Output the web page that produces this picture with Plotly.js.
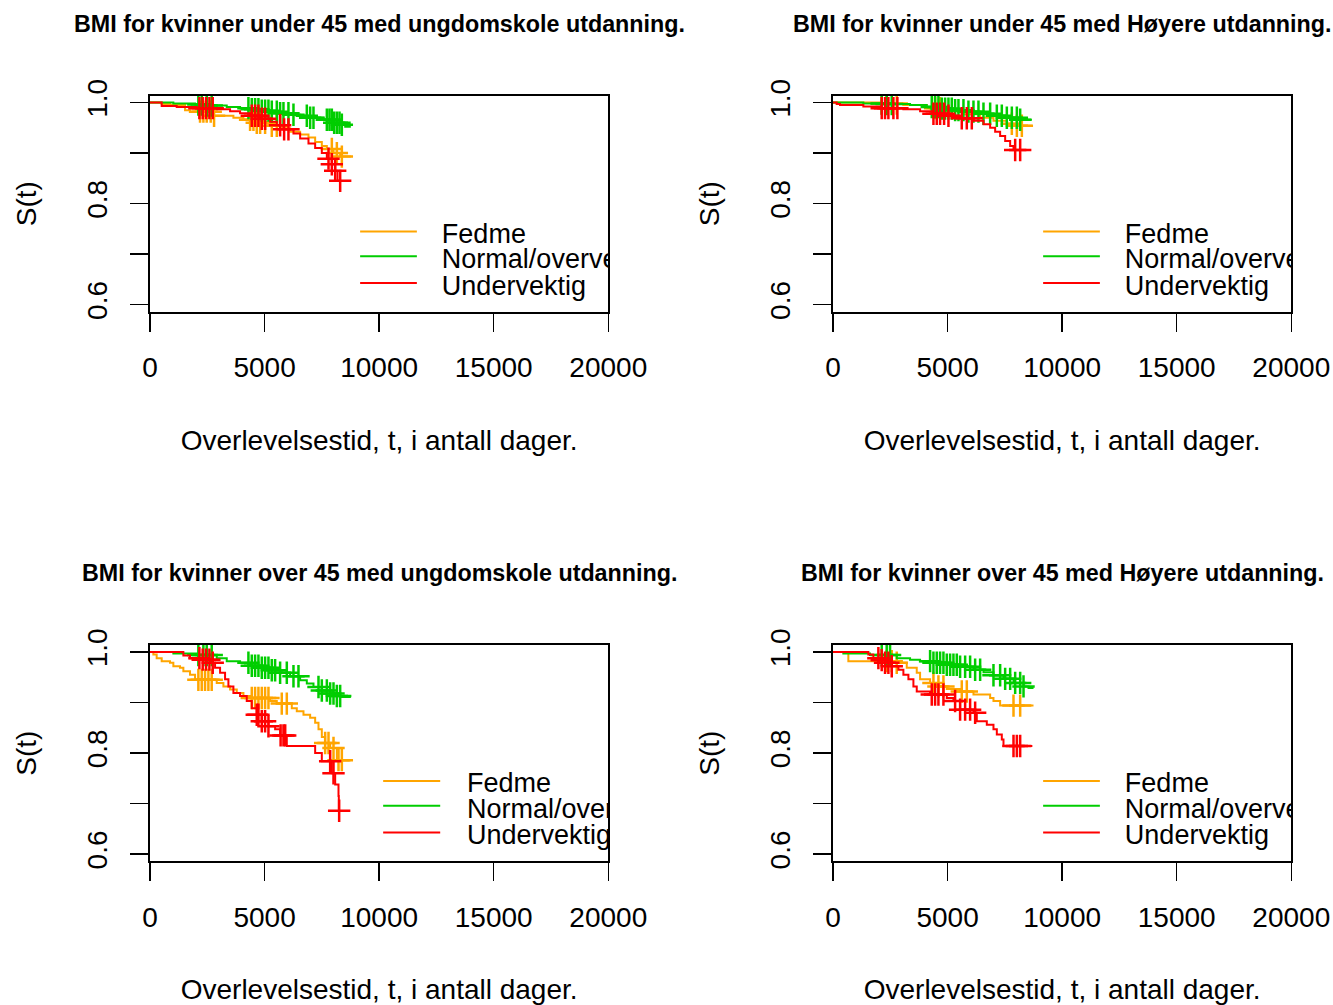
<!DOCTYPE html>
<html><head><meta charset="utf-8">
<script src="https://cdn.plot.ly/plotly-3.0.1.min.js"></script>
<style>html,body{margin:0;padding:0;background:#fff;}#chart{width:1333px;height:1005px;}</style>
</head><body><div id="chart"></div>
<script>
// ---------- text ----------
const groupNames = ["Fedme", "Normal/overvekt", "Undervektig"];
const groupColors = ["#FFA500", "#00CD00", "#FF0000"];
const panelTitles = [
  "BMI for kvinner under 45 med ungdomskole utdanning.",
  "BMI for kvinner under 45 med Høyere utdanning.",
  "BMI for kvinner over 45 med ungdomskole utdanning.",
  "BMI for kvinner over 45 med Høyere utdanning."
];
const xTitle = "Overlevelsestid, t, i antall dager.";
const yTitle = "S(t)";
const xTickVals = [0, 5000, 10000, 15000, 20000];
const xTickText = ["0", "5000", "10000", "15000", "20000"];
const yTickVals = [0.6, 0.7, 0.8, 0.9, 1.0];
const yTickText = ["0.6", "", "0.8", "", "1.0"];

// ---------- panel 1: under 45, ungdomskole ----------
const p1FedmeT = [0, 510, 874, 1529, 1747, 2766, 3640, 4077, 4659, 5169, 5678, 6115, 6552, 6916, 7207, 7498, 7717, 8008, 8299, 8765];
const p1FedmeS = [1, 0.997, 0.995, 0.985, 0.982, 0.974, 0.970, 0.966, 0.960, 0.954, 0.949, 0.942, 0.937, 0.931, 0.922, 0.914, 0.908, 0.900, 0.893, 0.893];
const p1FedmeC = [2184, 2330, 2475, 2650, 2796, 4368, 4514, 4659, 4805, 5023, 5315, 5533, 7935, 8154, 8372];
const p1NormalT = [0, 1019, 1966, 2475, 3349, 3931, 4368, 4805, 5242, 5678, 6115, 6552, 6989, 7571, 8008, 8299, 8518, 8765];
const p1NormalS = [1, 0.998, 0.996, 0.994, 0.991, 0.989, 0.987, 0.984, 0.982, 0.979, 0.976, 0.974, 0.970, 0.966, 0.960, 0.956, 0.952, 0.952];
const p1NormalC = [2111, 2257, 2475, 2693, 4295, 4441, 4586, 4732, 4878, 5023, 5169, 5315, 5533, 5678, 5824, 6042, 6261, 6843, 6989, 7134, 7717, 7833, 7935, 8037, 8154, 8270, 8372];
const p1UnderT = [0, 510, 1165, 2038, 2912, 3494, 3931, 4368, 4805, 5242, 5533, 5824, 6261, 6552, 6916, 7207, 7498, 7717, 7935, 8081, 8183, 8299];
const p1UnderS = [1, 0.993, 0.991, 0.989, 0.987, 0.983, 0.979, 0.974, 0.968, 0.962, 0.955, 0.947, 0.939, 0.929, 0.919, 0.910, 0.900, 0.889, 0.878, 0.865, 0.845, 0.845];
const p1UnderC = [2155, 2300, 2446, 2592, 2737, 4441, 4586, 4732, 4878, 5023, 5678, 5853, 6042, 7790, 7935, 8081, 8299];

// ---------- panel 2: under 45, høyere ----------
const p2FedmeT = [0, 2053, 3072, 4091, 4965, 5693, 6421, 7003, 7586, 8023, 8678];
const p2FedmeS = [1, 0.998, 0.995, 0.989, 0.983, 0.977, 0.970, 0.964, 0.958, 0.954, 0.954];
const p2FedmeC = [2126, 2344, 2781, 4455, 4674, 7804, 8023, 8241];
const p2NormalT = [0, 1325, 2344, 3363, 4091, 4674, 5256, 5839, 6421, 7003, 7586, 8168, 8678];
const p2NormalS = [1, 0.998, 0.997, 0.995, 0.991, 0.988, 0.985, 0.982, 0.978, 0.974, 0.970, 0.966, 0.966];
const p2NormalC = [2126, 2344, 2563, 4310, 4455, 4601, 4747, 4892, 5038, 5183, 5329, 5475, 5693, 5911, 6130, 6348, 6567, 6858, 7149, 7367, 7586, 7804, 8023, 8168];
const p2UnderT = [0, 160, 306, 1325, 2053, 3072, 3800, 4383, 4965, 5547, 6130, 6567, 6858, 7076, 7294, 7513, 7731, 7877, 8600];
const p2UnderS = [1, 0.997, 0.995, 0.992, 0.989, 0.987, 0.983, 0.978, 0.974, 0.969, 0.964, 0.957, 0.950, 0.942, 0.934, 0.924, 0.914, 0.906, 0.906];
const p2UnderC = [2126, 2271, 2417, 2635, 2810, 4383, 4528, 4674, 4848, 5038, 5620, 5839, 6057, 7950, 8168];

// ---------- panel 3: over 45, ungdomskole ----------
const p3FedmeT = [0, 146, 291, 510, 874, 1019, 1310, 1456, 1747, 1966, 2912, 3203, 3494, 3786, 4077, 4368, 5242, 5533, 6188, 6406, 6698, 6989, 7207, 7353, 7498, 7644, 7862, 8154, 8765];
const p3FedmeS = [1, 0.995, 0.988, 0.982, 0.979, 0.972, 0.969, 0.962, 0.955, 0.945, 0.939, 0.932, 0.926, 0.919, 0.913, 0.909, 0.903, 0.898, 0.889, 0.883, 0.876, 0.870, 0.860, 0.847, 0.832, 0.820, 0.810, 0.786, 0.786];
const p3FedmeC = [2111, 2257, 2402, 2548, 2693, 4441, 4586, 4732, 4878, 5023, 5169, 5751, 5970, 7644, 7790, 8008, 8226, 8372];
const p3NormalT = [0, 1019, 2038, 2912, 3349, 3931, 4368, 4805, 5242, 5678, 6115, 6552, 6843, 7134, 7498, 7862, 8154, 8372, 8765];
const p3NormalS = [1, 0.997, 0.994, 0.988, 0.982, 0.979, 0.973, 0.969, 0.964, 0.959, 0.952, 0.944, 0.938, 0.931, 0.924, 0.918, 0.913, 0.911, 0.911];
const p3NormalC = [2111, 2330, 2475, 2693, 4295, 4441, 4586, 4732, 4878, 5023, 5169, 5315, 5460, 5678, 5970, 6261, 6479, 7353, 7498, 7717, 7862, 8008, 8154, 8299];
const p3UnderT = [0, 1456, 1747, 2184, 2621, 2839, 3058, 3276, 3422, 3640, 3931, 4222, 4441, 4659, 4878, 5169, 5460, 5678, 5970, 7207, 7498, 7935, 8081, 8226, 8240, 8255];
const p3UnderS = [1, 0.993, 0.988, 0.985, 0.979, 0.969, 0.959, 0.946, 0.932, 0.919, 0.913, 0.903, 0.889, 0.876, 0.863, 0.853, 0.847, 0.835, 0.814, 0.800, 0.784, 0.760, 0.738, 0.715, 0.686, 0.686];
const p3UnderC = [2155, 2300, 2446, 2592, 2737, 4659, 4732, 4878, 5023, 5169, 5700, 5824, 5900, 7862, 8008, 8255];

// ---------- panel 4: over 45, høyere ----------
const p4FedmeT = [0, 670, 2781, 3218, 3655, 3800, 4237, 4528, 4965, 5547, 6130, 6858, 7003, 7294, 8750];
const p4FedmeS = [1, 0.982, 0.979, 0.969, 0.959, 0.946, 0.939, 0.932, 0.927, 0.922, 0.916, 0.909, 0.903, 0.894, 0.894];
const p4FedmeC = [2344, 2563, 2781, 4383, 4601, 4819, 5620, 5839, 7877, 8168];
const p4NormalT = [0, 451, 1616, 2781, 3363, 3800, 4383, 4965, 5547, 6130, 6567, 7003, 7440, 7877, 8314, 8532, 8750];
const p4NormalS = [1, 0.997, 0.994, 0.988, 0.985, 0.982, 0.979, 0.975, 0.971, 0.965, 0.960, 0.954, 0.947, 0.939, 0.932, 0.929, 0.929];
const p4NormalC = [2126, 2344, 2490, 4237, 4383, 4528, 4674, 4819, 4965, 5111, 5256, 5402, 5547, 5766, 5984, 6203, 6421, 7003, 7294, 7513, 7731, 7950, 8168, 8314];
const p4UnderT = [0, 1543, 1762, 2053, 2271, 2563, 2854, 3072, 3291, 3509, 3655, 4237, 4965, 5256, 5547, 6130, 6275, 6712, 7003, 7149, 7367, 7440, 8700];
const p4UnderS = [1, 0.995, 0.988, 0.984, 0.979, 0.972, 0.965, 0.955, 0.946, 0.932, 0.922, 0.916, 0.909, 0.903, 0.886, 0.880, 0.863, 0.856, 0.847, 0.837, 0.827, 0.814, 0.814];
const p4UnderC = [1980, 2126, 2271, 2417, 2563, 4310, 4455, 4601, 4819, 5329, 5547, 5766, 5984, 6203, 7877, 8023, 8168];

// ---------- build ----------
const panelData = [
  [[p1FedmeT, p1FedmeS, p1FedmeC], [p1NormalT, p1NormalS, p1NormalC], [p1UnderT, p1UnderS, p1UnderC]],
  [[p2FedmeT, p2FedmeS, p2FedmeC], [p2NormalT, p2NormalS, p2NormalC], [p2UnderT, p2UnderS, p2UnderC]],
  [[p3FedmeT, p3FedmeS, p3FedmeC], [p3NormalT, p3NormalS, p3NormalC], [p3UnderT, p3UnderS, p3UnderC]],
  [[p4FedmeT, p4FedmeS, p4FedmeC], [p4NormalT, p4NormalS, p4NormalC], [p4UnderT, p4UnderS, p4UnderC]]
];

function stepAt(t, s, c) {
  let v = s[0];
  for (let i = 0; i < t.length; i++) { if (t[i] <= c) v = s[i]; else break; }
  return v;
}

const W = 1333, H = 1005;
// plot boxes in pixels: [left, right, top, bottom]
const boxes = [
  [150, 608.3, 95.5, 311.7],
  [833, 1291.3, 95.5, 311.7],
  [150, 608.3, 645, 861.2],
  [833, 1291.3, 645, 861.2]
];
// legend placement (data units) per panel: line start, line end, text start
const legendX = [
  [9170, 11646, 12737],
  [9170, 11646, 12737],
  [10175, 12664, 13830],
  [9170, 11646, 12737]
];
const legendLineY = [0.745, 0.696, 0.643];
const legendTextY = [0.736, 0.685, 0.633];

const font = "Liberation Sans, Arial, Helvetica, sans-serif";
const traces = [];
const layout = {
  width: W, height: H,
  margin: {l: 0, r: 0, t: 0, b: 0},
  paper_bgcolor: "#fff", plot_bgcolor: "#fff",
  showlegend: false,
  font: {family: font, size: 28, color: "#000"},
  annotations: []
};

panelData.forEach((groups, p) => {
  const k = p === 0 ? "" : String(p + 1);
  const xa = "x" + k, ya = "y" + k;
  const b = boxes[p];
  groups.forEach((g, gi) => {
    const [t, s, c] = g;
    traces.push({
      type: "scatter", mode: "lines", x: t, y: s, xaxis: xa, yaxis: ya,
      line: {shape: "hv", color: groupColors[gi], width: 2},
      name: groupNames[gi], hoverinfo: "skip"
    });
    traces.push({
      type: "scatter", mode: "markers", x: c, y: c.map(v => stepAt(t, s, v)), xaxis: xa, yaxis: ya,
      marker: {symbol: "cross-thin-open", size: 16, color: groupColors[gi], line: {color: groupColors[gi], width: 2.5}},
      name: groupNames[gi], hoverinfo: "skip"
    });
  });
  // legend drawn inside the plot region (clipped at box edge like the original)
  const lx = legendX[p];
  groupNames.forEach((nm, gi) => {
    traces.push({
      type: "scatter", mode: "lines", x: [lx[0], lx[1]], y: [legendLineY[gi], legendLineY[gi]], xaxis: xa, yaxis: ya,
      line: {color: groupColors[gi], width: 2}, hoverinfo: "skip"
    });
    traces.push({
      type: "scatter", mode: "text", x: [lx[2]], y: [legendTextY[gi]], xaxis: xa, yaxis: ya,
      text: [nm], textposition: "middle right", cliponaxis: true,
      textfont: {family: font, size: 27, color: "#000"}, hoverinfo: "skip"
    });
  });

  layout["xaxis" + k] = {
    domain: [b[0] / W, b[1] / W], anchor: ya,
    range: [0, 20000], tickmode: "array", tickvals: xTickVals, ticktext: xTickText,
    ticks: "outside", ticklen: 18, tickwidth: 1.5, tickcolor: "#000",
    showline: true, mirror: true, linecolor: "#000", linewidth: 2,
    showgrid: false, zeroline: false, ticklabelstandoff: 12,
    tickfont: {family: font, size: 28, color: "#000"},
    title: {text: xTitle, font: {family: font, size: 28, color: "#000"}, standoff: 48}
  };
  layout["yaxis" + k] = {
    domain: [1 - b[3] / H, 1 - b[2] / H], anchor: xa,
    range: [0.586, 1.014], tickmode: "array", tickvals: yTickVals, ticktext: yTickText,
    ticks: "outside", ticklen: 18, tickwidth: 1.5, tickcolor: "#000", tickangle: -90,
    showline: true, mirror: true, linecolor: "#000", linewidth: 2,
    showgrid: false, zeroline: false, ticklabelstandoff: 12,
    tickfont: {family: font, size: 28, color: "#000"},
    title: {text: yTitle, font: {family: font, size: 28, color: "#000"}, standoff: 37}
  };
  layout.annotations.push({
    xref: "paper", yref: "paper",
    x: (b[0] + b[1]) / 2 / W, y: 1 - (p < 2 ? 24 : 573) / H,
    xanchor: "center", yanchor: "middle", showarrow: false,
    text: panelTitles[p], font: {family: font, size: 23.3, color: "#000", weight: "bold"}
  });
});

Plotly.newPlot("chart", traces, layout, {staticPlot: true, displayModeBar: false});
</script>
</body></html>
